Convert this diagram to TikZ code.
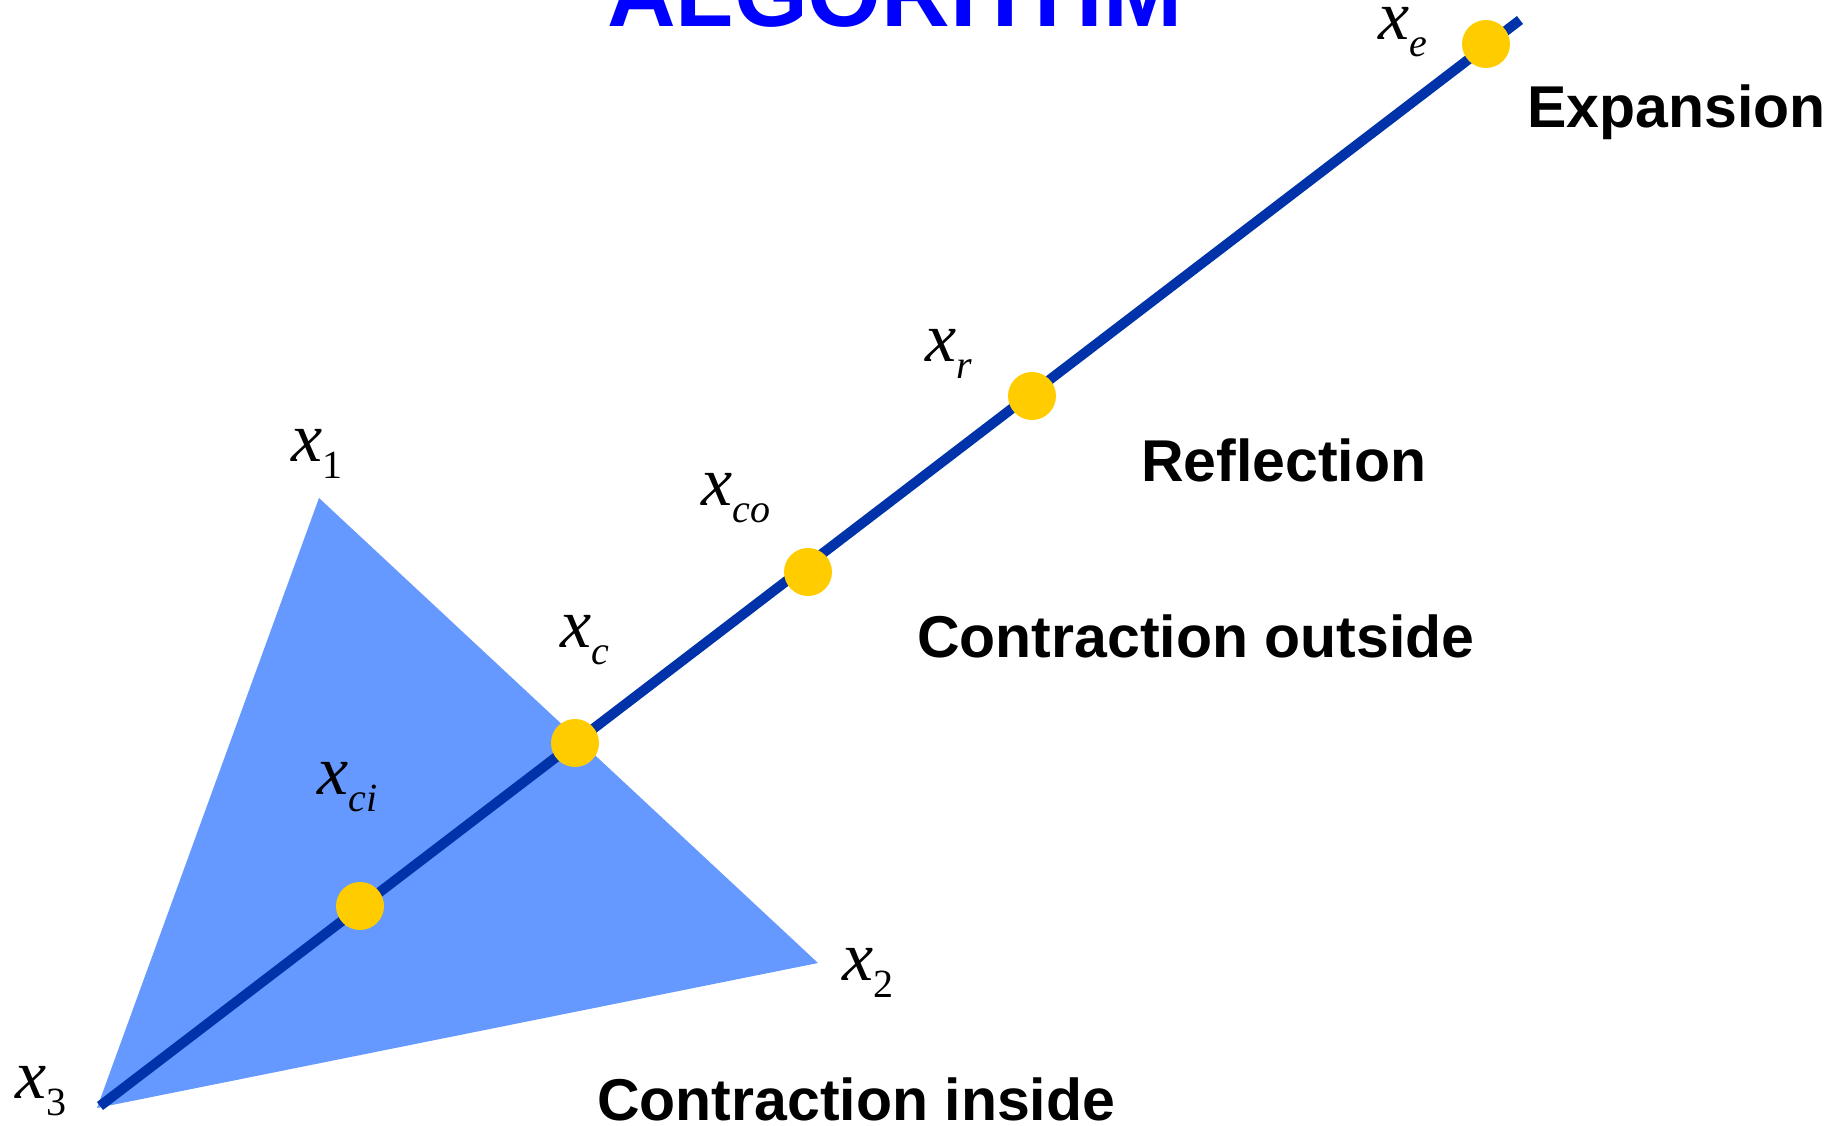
\documentclass[tikz,border=0pt]{standalone}
\usepackage{fontspec}
\setmainfont{Liberation Serif}
\newfontfamily\lsans{Liberation Sans}
\definecolor{triblue}{HTML}{6699FF}
\definecolor{lineblue}{HTML}{0033AA}
\definecolor{dotyellow}{HTML}{FFCC00}
\definecolor{titleblue}{HTML}{0000FF}
\newcommand\xsub[1]{\textit{x}\raisebox{-17pt}{\fontsize{40}{42}\selectfont #1}}
\begin{document}
\begin{tikzpicture}[x=1pt,y=-1pt,
  lbl/.style={anchor=base west,inner sep=0pt,font=\fontsize{70}{72}\selectfont},
  caption/.style={anchor=base west,inner sep=0pt,font=\lsans\bfseries\fontsize{59}{61}\selectfont},
  dot/.style={circle,fill=dotyellow,inner sep=0pt,minimum size=48pt},
  path/.style={draw=lineblue,line width=10pt}]
\clip (0,0) rectangle (1848,1126);
\useasboundingbox (0,0) rectangle (1848,1126);
% title (cut off at top)
\node[anchor=base,inner sep=0pt,text=titleblue,font=\lsans\bfseries\fontsize{95}{98}\selectfont] (title) at (895,27) {ALGORITHM};
% simplex
\coordinate (v1) at (319,498);
\coordinate (v2) at (818,963);
\coordinate (v3) at (97,1108);
\fill[triblue] (v1) -- (v2) -- (v3) -- cycle;
% line
\coordinate (ls) at (100,1106);
\coordinate (le) at (1520,20);
\draw[path] (ls) -- (le);
% points
\node[dot] (pci) at (360,906) {};
\node[dot] (pc) at (575,743) {};
\node[dot] (pco) at (808,572) {};
\node[dot] (pr) at (1032,396) {};
\node[dot] (pe) at (1486,44) {};
% vertex labels
\node[lbl] (l1) at (291,461) {\xsub{1}};
\node[lbl] (l2) at (842,980) {\xsub{2}};
\node[lbl] (l3) at (15,1098) {\xsub{3}};
\node[lbl] (lci) at (317,794) {\xsub{\itshape ci}};
\node[lbl] (lc) at (560,647) {\xsub{\itshape c}};
\node[lbl] (lco) at (701,505) {\xsub{\itshape co}};
\node[lbl] (lr) at (925,361) {\xsub{\itshape r}};
\node[lbl] (le2) at (1378,40) {\xsub{\itshape e}};
% captions
\node[caption] (cexp) at (1527,128) {Expansion};
\node[caption] (cref) at (1141,481) {Reflection};
\node[caption] (cout) at (917,657) {Contraction outside};
\node[caption] (cin) at (597,1120) {Contraction inside};
\end{tikzpicture}
\end{document}
